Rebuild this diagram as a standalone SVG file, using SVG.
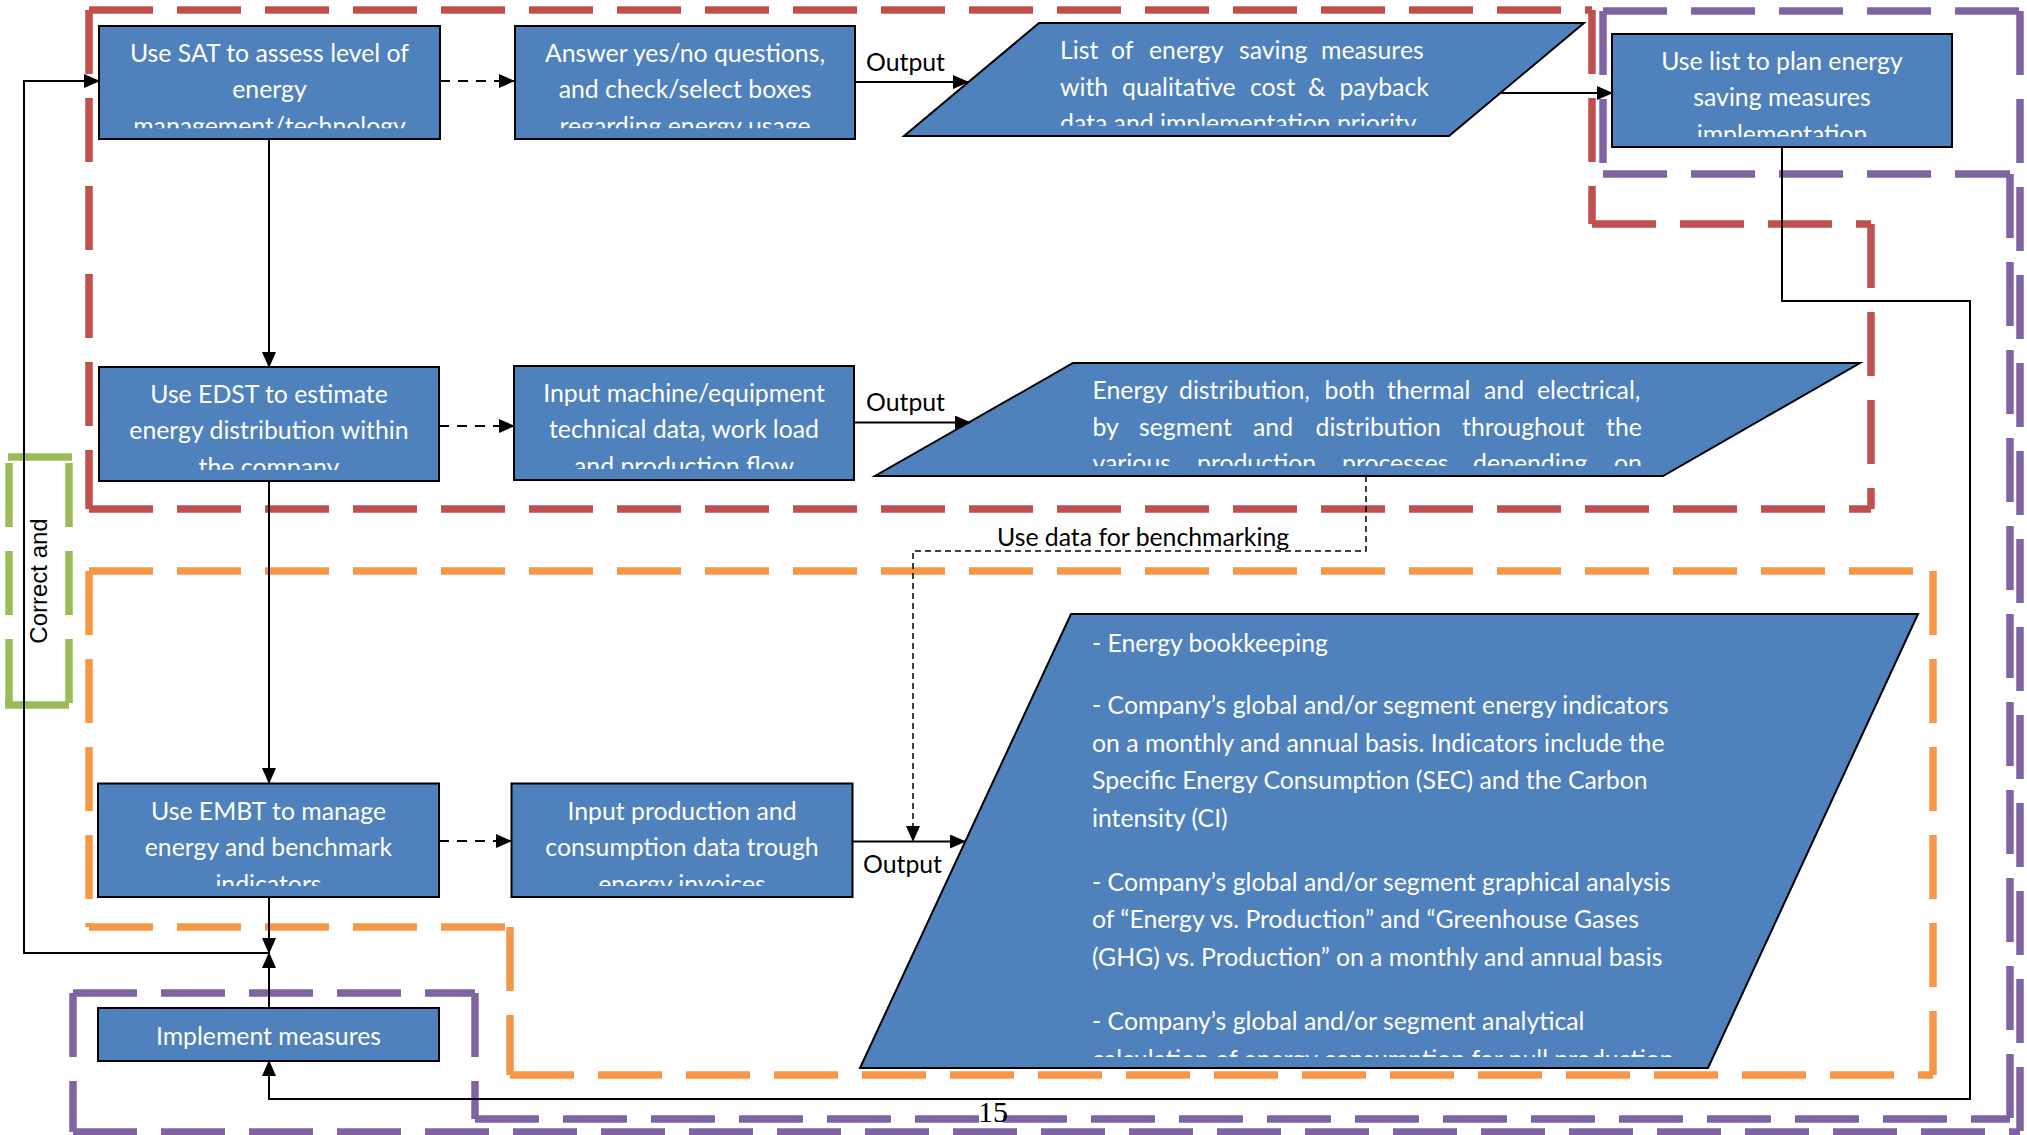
<svg xmlns="http://www.w3.org/2000/svg" width="2027" height="1135" viewBox="0 0 2027 1135">
<defs>
<marker id="ah" markerUnits="userSpaceOnUse" markerWidth="16" markerHeight="14" refX="15" refY="7" orient="auto"><path d="M0,0 L16,7 L0,14 z" fill="#000"/></marker>
<clipPath id="c-sat"><rect x="99" y="26" width="341" height="102.3"/></clipPath>
<clipPath id="c-ans"><rect x="515" y="26" width="340" height="102.3"/></clipPath>
<clipPath id="c-list"><rect x="1612" y="34" width="340" height="103"/></clipPath>
<clipPath id="c-edst"><rect x="99" y="367" width="340" height="103"/></clipPath>
<clipPath id="c-inm"><rect x="514" y="366" width="340" height="103"/></clipPath>
<clipPath id="c-embt"><rect x="98" y="783" width="341" height="103"/></clipPath>
<clipPath id="c-inp"><rect x="511" y="783" width="342" height="103"/></clipPath>
<clipPath id="c-p1"><rect x="1000" y="23" width="500" height="102.7"/></clipPath>
<clipPath id="c-p2"><rect x="1000" y="363" width="700" height="103"/></clipPath>
<clipPath id="c-p3"><rect x="1000" y="614" width="800" height="443"/></clipPath>
</defs>
<style>
.frame{fill:none;stroke-width:7.5;stroke-dasharray:64 24}
.red{stroke:#C0504D}
.pur{stroke:#8064A2}
.org{stroke:#F79646}
.grn{stroke:#9BBB59}
.box{fill:#4F81BD;stroke:#000;stroke-width:2}
.bt{font-family:Lato,"Open Sans",sans-serif;font-size:24.8px;fill:#fff;text-anchor:middle}
.pt{font-family:Lato,"Open Sans",sans-serif;font-size:24.8px;fill:#fff}
.lbl{font-family:Lato,"Open Sans",sans-serif;font-size:24.8px;fill:#000}
.conn{fill:none;stroke:#000;stroke-width:2}
.dsh{stroke-dasharray:10 8}
.thin{stroke-width:1.5;stroke-dasharray:6 4}
</style>
<rect width="2027" height="1135" fill="#fff"/>

<g id="frames">
<path class="frame red" d="M89,10 H1592 M1592,10 V224 M1592,224 H1871 M1871,224 V509 M89,509 H1871 M89,10 V509"/>
<path class="frame pur" d="M1603,11 H2020 M2020,11 V1132 M1603,11 V174 M1603,174 H2010 M2010,174 V1119 M475,1119 H2010 M475,993 V1119 M73,993 H475 M73,993 V1132 M73,1132 H2020"/>
<path class="frame org" d="M89,571 H1933 M1933,571 V1075 M510,1075 H1933 M510,927 V1075 M89,927 H510 M89,571 V927"/>
<path class="frame grn" d="M8,457 H72 M9,463 V705 M69,463 V705 M5,705 H69"/>
</g>

<g id="node-sat">
<rect class="box" x="99" y="26" width="341" height="113"/>
<text class="bt" clip-path="url(#c-sat)"><tspan x="269.5" y="61.7">Use SAT to assess level of</tspan><tspan x="269.5" y="98.4">energy</tspan><tspan x="269.5" y="135.1">management/technology</tspan></text>
</g>
<g id="node-answer">
<rect class="box" x="515" y="26" width="340" height="113"/>
<text class="bt" clip-path="url(#c-ans)"><tspan x="685" y="61.7">Answer yes/no questions,</tspan><tspan x="685" y="98.4">and check/select boxes</tspan><tspan x="685" y="135.1">regarding energy usage</tspan></text>
</g>
<g id="node-list-output">
<path class="box" d="M1039,23 L1584,23 L1449,136 L904,136 Z"/>
<text class="pt" clip-path="url(#c-p1)"><tspan x="1060" y="59">List</tspan><tspan x="1111" y="59">of</tspan><tspan x="1149" y="59">energy</tspan><tspan x="1239" y="59">saving</tspan><tspan x="1321" y="59">measures</tspan><tspan x="1060" y="95.7">with</tspan><tspan x="1122" y="95.7">qualitative</tspan><tspan x="1250" y="95.7">cost</tspan><tspan x="1308" y="95.7">&amp;</tspan><tspan x="1339.5" y="95.7">payback</tspan><tspan x="1060" y="132.4">data and implementation priority</tspan></text>
</g>
<g id="node-plan">
<rect class="box" x="1612" y="34" width="340" height="113"/>
<text class="bt" clip-path="url(#c-list)"><tspan x="1782" y="69.6">Use list to plan energy</tspan><tspan x="1782" y="106.3">saving measures</tspan><tspan x="1782" y="143">implementation</tspan></text>
</g>
<g id="node-edst">
<rect class="box" x="99" y="367" width="340" height="114"/>
<text class="bt" clip-path="url(#c-edst)"><tspan x="269" y="402.7">Use EDST to estimate</tspan><tspan x="269" y="439.4">energy distribution within</tspan><tspan x="269" y="476.1">the company</tspan></text>
</g>
<g id="node-input-machine">
<rect class="box" x="514" y="366" width="340" height="114"/>
<text class="bt" clip-path="url(#c-inm)"><tspan x="684" y="401.7">Input machine/equipment</tspan><tspan x="684" y="438.4">technical data, work load</tspan><tspan x="684" y="475.1">and production flow</tspan></text>
</g>
<g id="node-distribution-output">
<path class="box" d="M1073,363 L1860,363 L1663,476 L875,476 Z"/>
<text class="pt" clip-path="url(#c-p2)"><tspan x="1092.5" y="399">Energy</tspan><tspan x="1179" y="399">distribution,</tspan><tspan x="1324.5" y="399">both</tspan><tspan x="1387" y="399">thermal</tspan><tspan x="1484" y="399">and</tspan><tspan x="1537" y="399">electrical,</tspan><tspan x="1092.5" y="435.7">by</tspan><tspan x="1139" y="435.7">segment</tspan><tspan x="1253" y="435.7">and</tspan><tspan x="1315.5" y="435.7">distribution</tspan><tspan x="1462" y="435.7">throughout</tspan><tspan x="1606" y="435.7">the</tspan><tspan x="1092.5" y="472.4">various</tspan><tspan x="1197" y="472.4">production</tspan><tspan x="1342" y="472.4">processes</tspan><tspan x="1473" y="472.4">depending</tspan><tspan x="1614" y="472.4">on</tspan></text>
</g>
<g id="node-embt">
<rect class="box" x="98" y="783.5" width="341" height="113.5"/>
<text class="bt" clip-path="url(#c-embt)"><tspan x="268.5" y="819.5">Use EMBT to manage</tspan><tspan x="268.5" y="856.2">energy and benchmark</tspan><tspan x="268.5" y="892.9">indicators</tspan></text>
</g>
<g id="node-input-production">
<rect class="box" x="511.5" y="783.5" width="341" height="113.5"/>
<text class="bt" clip-path="url(#c-inp)"><tspan x="682" y="819.5">Input production and</tspan><tspan x="682" y="856.2">consumption data trough</tspan><tspan x="682" y="892.9">energy invoices</tspan></text>
</g>
<g id="node-indicators-output">
<path class="box" d="M1071,614 L1918,614 L1708,1068 L860,1068 Z"/>
<text class="pt" clip-path="url(#c-p3)"><tspan x="1092" y="651.7">- Energy bookkeeping</tspan><tspan x="1092" y="714">- Company’s global and/or segment energy indicators</tspan><tspan x="1092" y="751.7">on a monthly and annual basis. Indicators include the</tspan><tspan x="1092" y="789.3">Specific Energy Consumption (SEC) and the Carbon</tspan><tspan x="1092" y="826.7">intensity (CI)</tspan><tspan x="1092" y="890.7">- Company’s global and/or segment graphical analysis</tspan><tspan x="1092" y="928.3">of “Energy vs. Production” and “Greenhouse Gases</tspan><tspan x="1092" y="966">(GHG) vs. Production” on a monthly and annual basis</tspan><tspan x="1092" y="1030">- Company’s global and/or segment analytical</tspan><tspan x="1092" y="1067.7">calculation of energy consumption for null production</tspan></text>
</g>
<g id="node-implement">
<rect class="box" x="98" y="1008" width="341" height="53"/>
<text class="bt" x="268.5" y="1045">Implement measures</text>
</g>

<g id="connectors">
<path class="conn" marker-end="url(#ah)" d="M269,953 H24 V81 H99"/>
<path class="conn" marker-end="url(#ah)" d="M269,139 V367"/>
<path class="conn" marker-end="url(#ah)" d="M269,481 V783"/>
<path class="conn" marker-end="url(#ah)" d="M269,897 V953"/>
<path class="conn" marker-end="url(#ah)" d="M269,1008 V953"/>
<path class="conn dsh" marker-end="url(#ah)" d="M440,81 H514"/>
<path class="conn" marker-end="url(#ah)" d="M855,82 H968"/>
<path class="conn" marker-end="url(#ah)" d="M1500,93 H1612"/>
<path class="conn" marker-end="url(#ah)" d="M1782,147 V301 H1970 V1099 H269 V1061"/>
<path class="conn dsh" marker-end="url(#ah)" d="M439,426 H514"/>
<path class="conn" marker-end="url(#ah)" d="M854,422.5 H970"/>
<path class="conn thin" marker-end="url(#ah)" d="M1366,476 V551 H913 V841"/>
<path class="conn dsh" marker-end="url(#ah)" d="M439,841 H511"/>
<path class="conn" marker-end="url(#ah)" d="M853,841.5 H965"/>
</g>

<g id="labels">
<text class="lbl" x="866" y="71">Output</text>
<text class="lbl" x="866" y="411">Output</text>
<text class="lbl" x="863" y="873">Output</text>
<text class="lbl" x="997" y="546">Use data for benchmarking</text>
<text font-family="Liberation Sans, Arial, sans-serif" font-size="24" fill="#000" text-anchor="middle" transform="translate(46.5,581) rotate(-90)">Correct and</text>
<text font-family="Liberation Serif, Times New Roman, serif" font-size="30" fill="#000" x="978" y="1122">15</text>
</g>
</svg>
